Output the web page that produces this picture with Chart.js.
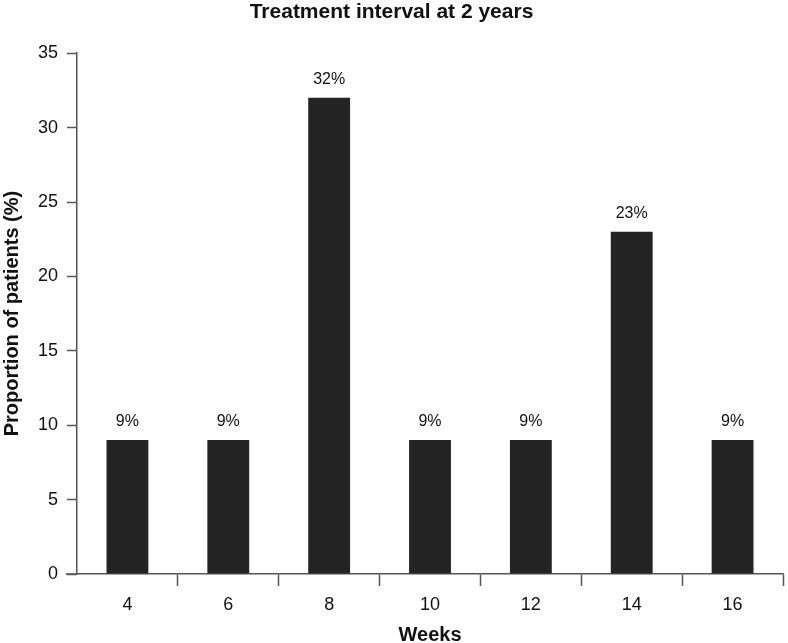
<!DOCTYPE html>
<html>
<head>
<meta charset="utf-8">
<script src="https://cdn.jsdelivr.net/npm/chart.js@4.4.0/dist/chart.umd.min.js"></script>
<style>
  html, body { margin: 0; padding: 0; background: #fff; }
  #wrap { width: 788px; height: 643px; }
</style>
</head>
<body>
<div id="wrap"><canvas id="interval_chart" width="788" height="643"></canvas></div>
<script>
var weeks = ['4', '6', '8', '10', '12', '14', '16'];
var patients = [9, 9, 32, 9, 9, 23, 9];
var yTicks = [0, 5, 10, 15, 20, 25, 30, 35];

var fontFamily = '"Liberation Sans", Arial, Helvetica, sans-serif';

// value labels above the bars, plus the little stub of x axis left of the y axis
var barLabels = {
    id: 'barLabels',
    afterDatasetsDraw: function (chart) {
        var ctx = chart.ctx;
        var meta = chart.getDatasetMeta(0);
        ctx.save();
        ctx.font = '16px ' + fontFamily;
        ctx.fillStyle = '#111';
        ctx.textAlign = 'center';
        ctx.textBaseline = 'bottom';
        meta.data.forEach(function (bar, i) {
            ctx.fillText(patients[i] + '%', bar.x, bar.y - 10);
        });
        var y0 = chart.scales.y.getPixelForValue(0);
        ctx.strokeStyle = '#555';
        ctx.lineWidth = 1.5;
        ctx.beginPath();
        ctx.moveTo(chart.chartArea.left - 11, y0);
        ctx.lineTo(chart.chartArea.left, y0);
        ctx.stroke();
        ctx.restore();
    }
};

var interval_chart = document.getElementById('interval_chart');
var My_interval_chart = new Chart(interval_chart, {
    type: 'bar',
    data: {
        labels: weeks,
        datasets: [{
            data: patients,
            backgroundColor: '#242424',
            borderWidth: 0,
            barPercentage: 0.83,
            categoryPercentage: 0.5
        }]
    },
    options: {
        responsive: false,
        animation: false,
        layout: { padding: { left: 0, right: 5, top: 0, bottom: 0 } },
        plugins: {
            legend: { display: false },
            tooltip: { enabled: false },
            title: {
                display: true,
                text: 'Treatment interval at 2 years',
                color: '#111',
                font: { family: fontFamily, size: 21, weight: 'bold' },
                padding: { top: 0, bottom: 28 }
            }
        },
        scales: {
            x: {
                grid: {
                    display: true,
                    offset: true,
                    drawOnChartArea: false,
                    drawTicks: true,
                    tickLength: 12,
                    tickWidth: 1.5,
                    tickColor: function (c) { return c.index === 0 ? 'rgba(0,0,0,0)' : '#555'; },
                    color: '#555'
                },
                border: { display: true, color: '#555', width: 1.5 },
                ticks: {
                    color: '#111',
                    padding: 8,
                    font: { family: fontFamily, size: 18 }
                },
                title: {
                    display: true,
                    text: 'Weeks',
                    color: '#111',
                    font: { family: fontFamily, size: 20, weight: 'bold' },
                    padding: { top: 0, bottom: -4 }
                },
                afterFit: function (scale) { scale.height = 69; }
            },
            y: {
                min: 0,
                max: 35,
                afterBuildTicks: function (scale) {
                    scale.ticks = yTicks.map(function (v) { return { value: v }; });
                },
                grid: {
                    display: true,
                    drawOnChartArea: false,
                    drawTicks: true,
                    tickLength: 10,
                    tickWidth: 1.5,
                    color: '#555'
                },
                border: { display: true, color: '#555', width: 1.5 },
                ticks: {
                    color: '#111',
                    padding: 9,
                    font: { family: fontFamily, size: 18 }
                },
                title: {
                    display: true,
                    text: 'Proportion of patients (%)',
                    color: '#111',
                    font: { family: fontFamily, size: 20, weight: 'bold' },
                    padding: { top: 0, bottom: 0 }
                },
                afterFit: function (scale) { scale.width = 77; }
            }
        }
    },
    plugins: [barLabels]
});
</script>
</body>
</html>
